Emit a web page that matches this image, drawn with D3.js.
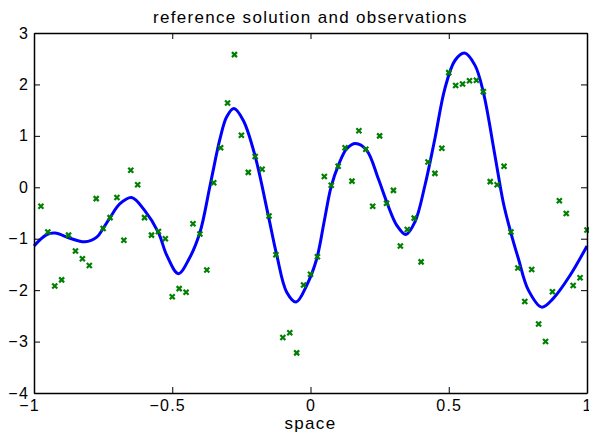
<!DOCTYPE html>
<html>
<head>
<meta charset="utf-8">
<script src="https://cdn.jsdelivr.net/npm/d3@7"></script>
<style>
  body { margin: 0; background: #fff; }
  text { font-family: "Liberation Sans", Arial, sans-serif; fill: #000; }
</style>
</head>
<body>
<div id="chart"></div>
<script>
// reference solution (blue curve)
const xCurve = [-1.000, -0.954, -0.924, -0.870, -0.816, -0.773, -0.750, -0.725, -0.689, -0.647,
  -0.600, -0.550, -0.520, -0.478, -0.440, -0.400, -0.363, -0.327, -0.303, -0.277,
  -0.243, -0.201, -0.153, -0.122, -0.086, -0.052, -0.014, 0.022, 0.050, 0.074,
  0.101, 0.131, 0.163, 0.203, 0.245, 0.276, 0.312, 0.345, 0.378, 0.414,
  0.450, 0.486, 0.523, 0.557, 0.595, 0.625, 0.667, 0.697, 0.724, 0.752,
  0.788, 0.836, 0.878, 0.939, 1.000];
const yCurve = [-1.14, -0.92, -0.89, -0.99, -1.06, -0.97, -0.80, -0.59, -0.32, -0.20,
  -0.45, -0.88, -1.32, -1.68, -1.40, -0.88, 0.04, 0.95, 1.37, 1.53,
  1.30, 0.62, -0.54, -1.32, -2.04, -2.23, -1.91, -1.40, -0.65, 0.00,
  0.43, 0.75, 0.85, 0.72, 0.17, -0.29, -0.74, -0.92, -0.67, 0.04,
  0.95, 1.92, 2.47, 2.61, 2.37, 1.85, 0.62, -0.29, -0.87, -1.39,
  -2.00, -2.33, -2.16, -1.71, -1.14];

// observations (green crosses)
const xObs = [-0.975, -0.950, -0.925, -0.900, -0.875, -0.850, -0.825, -0.800, -0.775, -0.750,
  -0.725, -0.700, -0.675, -0.650, -0.625, -0.600, -0.575, -0.550, -0.525, -0.500,
  -0.475, -0.450, -0.425, -0.400, -0.375, -0.350, -0.325, -0.300, -0.275, -0.250,
  -0.225, -0.200, -0.175, -0.150, -0.125, -0.100, -0.075, -0.050, -0.025, 0.000,
  0.025, 0.050, 0.075, 0.100, 0.125, 0.150, 0.175, 0.200, 0.225, 0.250,
  0.275, 0.300, 0.325, 0.350, 0.375, 0.400, 0.425, 0.450, 0.475, 0.500,
  0.525, 0.550, 0.575, 0.600, 0.625, 0.650, 0.675, 0.700, 0.725, 0.750,
  0.775, 0.800, 0.825, 0.850, 0.875, 0.900, 0.925, 0.950, 0.975, 1.000];
const yObs = [-0.37, -0.87, -1.92, -1.80, -0.93, -1.24, -1.39, -1.52, -0.22, -0.80,
  -0.59, -0.20, -1.03, 0.33, 0.05, -0.59, -0.93, -0.86, -1.00, -2.13,
  -1.97, -2.04, -0.71, -0.91, -1.61, 0.09, 0.77, 1.64, 2.58, 1.01,
  0.29, 0.60, 0.35, -0.56, -1.31, -2.92, -2.83, -3.22, -1.90, -1.69,
  -1.35, 0.21, 0.04, 0.41, 0.77, 0.12, 1.10, 0.74, -0.37, 1.00,
  -0.31, -0.06, -1.14, -0.82, -0.60, -1.45, 0.49, 0.27, 0.76, 2.23,
  1.98, 2.01, 2.07, 2.08, 1.86, 0.11, 0.05, 0.41, -0.87, -1.57,
  -2.22, -1.60, -2.66, -3.00, -2.03, -0.26, -0.51, -1.91, -1.76, -0.83];

const xTicks = [-1, -0.5, 0, 0.5, 1];
const yTicks = [-4, -3, -2, -1, 0, 1, 2, 3];

const W = 589, H = 432;
const margin = { top: 33, right: 2, bottom: 39, left: 34 };
const width = W - margin.left - margin.right;
const height = H - margin.top - margin.bottom;

const svg = d3.select("#chart")
    .append("svg")
    .attr("width", W)
    .attr("height", H);

const g = svg.append("g")
    .attr("transform", "translate(" + margin.left + "," + margin.top + ")");

const x = d3.scaleLinear().domain([-1, 1]).range([0, width]);
const y = d3.scaleLinear().domain([-4, 3]).range([height, 0]);
const fmt = d3.format("");

// curve
const line = d3.line()
    .x(d => x(d[0]))
    .y(d => y(d[1]))
    .curve(d3.curveCatmullRom.alpha(0.5));

g.append("path")
    .datum(d3.zip(xCurve, yCurve))
    .attr("fill", "none")
    .attr("stroke", "#0000ff")
    .attr("stroke-width", 3)
    .attr("stroke-linejoin", "round")
    .attr("d", line);

// observations as x markers
g.selectAll(".obs")
    .data(d3.zip(xObs, yObs))
    .enter()
    .append("path")
    .attr("class", "obs")
    .attr("transform", d => "translate(" + x(d[0]) + "," + y(d[1]) + ")")
    .attr("d", "M-2.5,-2.5L2.5,2.5M-2.5,2.5L2.5,-2.5")
    .attr("stroke", "#008000")
    .attr("stroke-width", 2.2)
    .attr("fill", "none");

// axes, ticks inward on every side
function styleAxis(sel) {
    sel.select(".domain").attr("stroke", "#000").attr("stroke-width", 1.5);
    sel.selectAll(".tick line").attr("stroke", "#000").attr("stroke-width", 1);
}

const xAxis = g.append("g")
    .attr("transform", "translate(0," + height + ")")
    .call(d3.axisBottom(x).tickValues(xTicks).tickFormat(fmt).tickSize(-6).tickSizeOuter(0).tickPadding(7));
styleAxis(xAxis);
xAxis.selectAll("text")
    .style("font-size", "16px")
    .style("letter-spacing", "1.2px")
    .attr("dx", d => d < 0 ? -5 : 0);

const yAxis = g.append("g")
    .call(d3.axisLeft(y).tickValues(yTicks).tickFormat(fmt).tickSize(-6).tickSizeOuter(0).tickPadding(5));
styleAxis(yAxis);
yAxis.selectAll("text")
    .style("font-size", "16px")
    .style("letter-spacing", "1.2px");

const topAxis = g.append("g")
    .call(d3.axisTop(x).tickValues(xTicks).tickSize(-6).tickSizeOuter(0).tickFormat(""));
styleAxis(topAxis);

const rightAxis = g.append("g")
    .attr("transform", "translate(" + width + ",0)")
    .call(d3.axisRight(y).tickValues(yTicks).tickSize(-6).tickSizeOuter(0).tickFormat(""));
styleAxis(rightAxis);

// title and label
svg.append("text")
    .attr("x", margin.left + width / 2)
    .attr("y", 23)
    .attr("text-anchor", "middle")
    .style("font-size", "17px")
    .style("letter-spacing", "1.3px")
    .text("reference solution and observations");

svg.append("text")
    .attr("x", margin.left + width / 2)
    .attr("y", 429)
    .attr("text-anchor", "middle")
    .style("font-size", "17px")
    .style("letter-spacing", "1.3px")
    .text("space");
</script>
</body>
</html>
